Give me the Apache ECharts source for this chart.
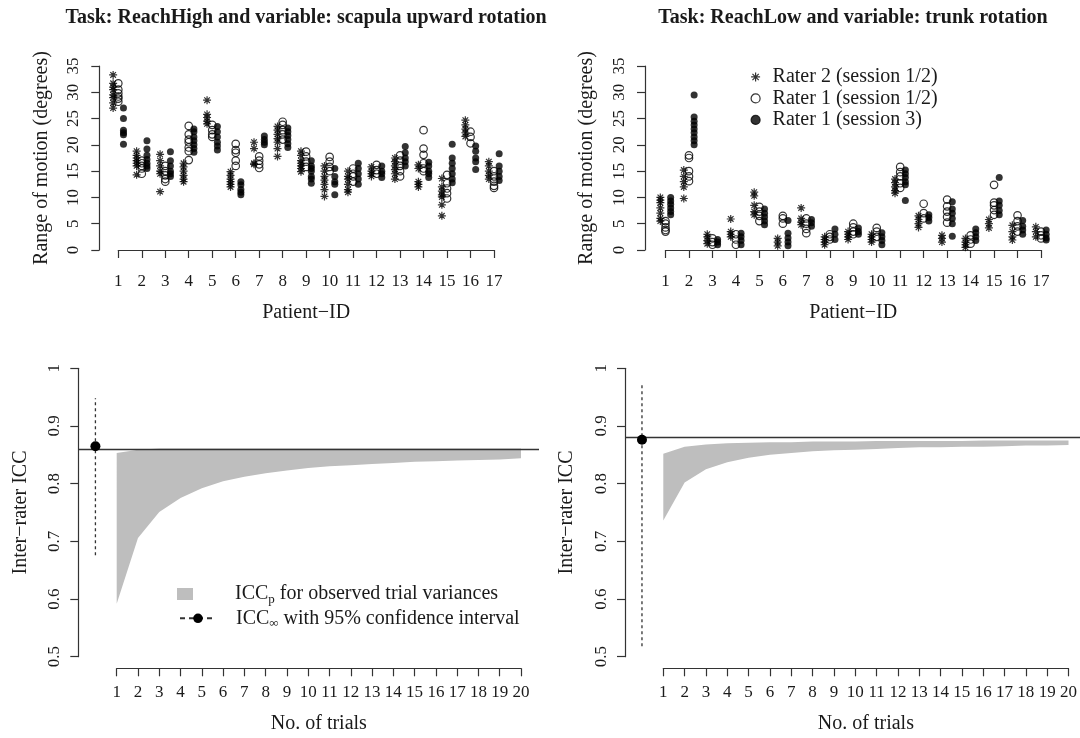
<!DOCTYPE html>
<html>
<head>
<meta charset="utf-8">
<title>Range of motion and inter-rater ICC</title>
<script src="https://cdn.jsdelivr.net/npm/echarts@6/dist/echarts.min.js"></script>
<style>
  html, body { margin: 0; padding: 0; background: #fff; }
  #chart { width: 1080px; height: 738px; }
</style>
</head>
<body>
<div id="chart"></div>
<script>
// ---- data ----
const patients = [1, 2, 3, 4, 5, 6, 7, 8, 9, 10, 11, 12, 13, 14, 15, 16, 17]
const trials = [1, 2, 3, 4, 5, 6, 7, 8, 9, 10, 11, 12, 13, 14, 15, 16, 17, 18, 19, 20]

// ReachHigh, scapula upward rotation (one list per patient)
const highRater2 = [
  [33.3, 31.7, 31.0, 30.5, 29.5, 29.0, 28.0, 27.0],
  [18.8, 18.0, 17.5, 17.0, 16.5, 16.0, 14.3],
  [18.2, 17.0, 16.0, 15.0, 14.5, 11.1],
  [16.5, 15.8, 15.0, 14.2, 13.5, 13.0],
  [28.5, 25.8, 25.2, 24.5, 24.0],
  [14.9, 14.2, 13.5, 13.0, 12.5, 12.0],
  [20.5, 19.3, 16.5, 16.3],
  [23.5, 22.8, 22.0, 21.2, 20.5, 19.3, 17.8],
  [18.8, 18.0, 17.0, 16.5, 16.0, 15.5, 14.9],
  [16.0, 15.0, 14.0, 13.3, 12.5, 11.5, 10.2],
  [15.0, 14.0, 13.5, 12.5, 11.5, 11.0],
  [15.8, 15.0, 14.5, 14.0],
  [17.5, 16.8, 16.0, 15.3, 14.5, 13.5],
  [16.2, 15.5, 13.0, 12.5, 12.0],
  [13.6, 12.0, 11.2, 10.5, 10.1, 8.6, 6.5],
  [24.7, 23.8, 23.0, 22.3, 21.6],
  [16.8, 16.0, 15.0, 14.2, 13.5]
]
const highRater1 = [
  [31.7, 30.5, 29.8, 29.2, 28.8, 28.2],
  [17.0, 16.5, 16.0, 15.5, 14.5],
  [16.0, 15.0, 14.2, 13.5, 13.0],
  [23.6, 22.0, 21.0, 20.5, 19.5, 18.8, 17.1],
  [23.8, 22.8, 22.0, 21.5],
  [20.2, 19.0, 18.5, 17.0, 16.0],
  [17.8, 17.0, 16.3, 15.6],
  [24.4, 23.8, 22.8, 22.0, 21.0],
  [18.7, 17.8, 16.8, 15.8],
  [17.7, 16.8, 15.8, 15.0],
  [15.5, 14.5, 14.0, 13.0],
  [16.2, 15.2, 14.5],
  [18.0, 17.0, 16.0, 15.0, 14.0],
  [22.8, 19.3, 18.1, 16.5, 15.5, 15.0],
  [14.3, 12.7, 11.7, 10.8, 9.8],
  [22.5, 21.5, 20.3],
  [15.0, 14.0, 13.0, 12.2, 11.8]
]
const highRater1s3 = [
  [27.0, 25.0, 22.8, 22.3, 21.9, 20.1],
  [20.8, 19.2, 18.0, 17.2, 16.5, 16.0, 15.5],
  [18.7, 17.0, 16.0, 15.0, 14.5, 14.0],
  [23.0, 22.5, 21.5, 20.8, 20.0, 19.3, 18.6],
  [23.5, 22.5, 21.5, 20.5, 19.8, 19.0],
  [13.0, 12.4, 11.5, 11.0, 10.5],
  [21.7, 21.0, 20.5, 20.0],
  [23.2, 22.5, 21.8, 21.0, 20.2, 19.5],
  [17.0, 16.0, 15.5, 15.0, 14.0, 13.5, 12.7],
  [15.5, 14.0, 13.0, 12.5, 10.5],
  [16.5, 15.5, 14.5, 13.5, 12.5],
  [16.0, 15.0, 14.5, 13.8],
  [19.7, 18.5, 17.5, 16.8, 16.0],
  [16.7, 16.0, 15.0, 14.5, 13.8],
  [20.1, 17.5, 16.5, 15.5, 14.5, 13.5, 12.8],
  [19.8, 18.8, 17.5, 16.8, 15.3],
  [18.3, 16.0, 15.0, 14.0, 13.2]
]

// ReachLow, trunk rotation
const lowRater2 = [
  [10.0, 9.5, 9.0, 8.0, 7.0, 6.0, 5.5],
  [15.2, 14.0, 13.0, 12.0, 9.8],
  [3.0, 2.5, 1.8, 1.2],
  [5.9, 3.5, 3.0, 2.5],
  [11.0, 10.3, 8.5, 7.3, 6.7],
  [2.2, 1.5, 0.8],
  [8.0, 6.0, 5.3, 4.8],
  [2.5, 2.0, 1.5, 1.0],
  [3.5, 3.0, 2.5, 2.0],
  [3.0, 2.5, 2.0, 1.5],
  [13.5, 12.8, 12.0, 11.3, 10.8],
  [6.5, 5.8, 5.0, 4.3],
  [2.8, 2.2, 1.5],
  [2.2, 1.5, 1.0, 0.5],
  [5.8, 5.0, 4.2],
  [4.7, 3.5, 2.5, 1.9],
  [4.4, 3.5, 2.5]
]
const lowRater1 = [
  [5.5, 5.0, 4.3, 3.8, 3.5],
  [18.0, 17.5, 15.0, 14.0, 13.1],
  [2.2, 1.5, 1.0],
  [3.0, 2.0, 1.0],
  [8.2, 7.3, 6.5, 5.5],
  [6.5, 6.0, 5.0],
  [6.0, 5.0, 4.0, 3.2],
  [3.0, 2.5, 2.0],
  [5.0, 4.3, 3.5, 3.0],
  [4.2, 3.5, 2.5],
  [15.8, 14.8, 14.0, 12.7, 11.8],
  [8.8, 7.0, 6.0],
  [9.6, 8.3, 7.3, 6.3, 5.2],
  [2.8, 2.0, 1.2],
  [12.4, 9.0, 8.5, 7.6, 6.7],
  [6.6, 5.5, 4.5, 3.5],
  [3.5, 2.8, 2.2]
]
const lowRater1s3 = [
  [10.0, 9.3, 8.7, 8.0, 7.3, 6.7],
  [29.5, 25.3, 24.5, 23.8, 23.0, 22.3, 21.5, 20.8, 20.0],
  [2.0, 1.5, 1.0],
  [3.2, 2.5, 1.8, 1.0],
  [7.8, 7.0, 6.3, 5.5, 4.8],
  [5.6, 3.2, 2.3, 1.5, 0.8],
  [5.8, 5.2, 4.5],
  [4.0, 3.0, 2.0],
  [4.2, 3.5, 3.0],
  [3.3, 2.5, 1.8, 1.0],
  [15.2, 14.5, 13.8, 13.0, 12.4, 9.4],
  [6.7, 6.2, 5.5],
  [9.2, 7.8, 7.0, 6.0, 5.0, 2.6],
  [4.0, 3.3, 2.5, 1.8],
  [13.8, 9.3, 8.5, 7.5, 6.7],
  [5.6, 4.5, 3.8, 3.0],
  [3.8, 3.0, 2.3, 1.9]
]

// ICC_p bands (lower / upper edge per number of trials) and ICC_inf with 95% CI
const highBandLower = [0.592, 0.706, 0.751, 0.775, 0.792, 0.804, 0.812, 0.818, 0.823, 0.827,
  0.830, 0.832, 0.834, 0.836, 0.838, 0.839, 0.840, 0.841, 0.842, 0.844]
const highBandUpper = [0.853, 0.859, 0.861, 0.861, 0.861, 0.861, 0.861, 0.861, 0.861, 0.861,
  0.861, 0.861, 0.861, 0.861, 0.861, 0.861, 0.861, 0.861, 0.861, 0.861]
const highIcc = 0.865
const highCi = [0.676, 0.948]

const lowBandLower = [0.736, 0.802, 0.825, 0.837, 0.845, 0.850, 0.853, 0.856, 0.858, 0.859,
  0.860, 0.862, 0.863, 0.863, 0.864, 0.864, 0.865, 0.866, 0.866, 0.867]
const lowBandUpper = [0.852, 0.864, 0.868, 0.870, 0.871, 0.872, 0.872, 0.873, 0.873, 0.873,
  0.874, 0.874, 0.874, 0.874, 0.874, 0.875, 0.875, 0.875, 0.875, 0.875]
const lowIcc = 0.876
const lowCi = [0.518, 0.972]

const raterNames = ['Rater 2 (session 1/2)', 'Rater 1 (session 1/2)', 'Rater 1 (session 3)']
const bandName = 'ICCp for observed trial variances'
const iccName = 'ICC∞ with 95% confidence interval'

// ---- styling helpers ----
const FONT = 'Liberation Serif'
const INK = '#1a1a1a'
const AXIS = '#333'
const STAR = 'path://M0 5L10 5M5 0L5 10M1.5 1.5L8.5 8.5M1.5 8.5L8.5 1.5'

function points(groups, shift) {
  const pts = []
  groups.forEach((vals, i) => {
    vals.forEach(v => pts.push([patients[i] + shift, v]))
  })
  return pts
}

function xAxis(gridIndex, min, max, name, offset, margin) {
  return {
    gridIndex: gridIndex,
    type: 'value',
    min: min,
    max: max,
    interval: 1,
    offset: offset,
    axisLine: { show: true, lineStyle: { color: AXIS, width: 1.2 } },
    axisTick: { show: true, length: 8, lineStyle: { color: AXIS, width: 1.2 } },
    axisLabel: { margin: margin, fontSize: 17, fontFamily: FONT, color: INK },
    splitLine: { show: false },
    name: name,
    nameLocation: 'middle',
    nameGap: 45,
    nameTextStyle: { fontSize: 20, fontFamily: FONT, color: INK }
  }
}

function yAxis(gridIndex, min, max, interval, name, offset, margin) {
  return {
    gridIndex: gridIndex,
    type: 'value',
    min: min,
    max: max,
    interval: interval,
    offset: offset,
    axisLine: { show: true, lineStyle: { color: AXIS, width: 1.2 } },
    axisTick: { show: true, length: 8, lineStyle: { color: AXIS, width: 1.2 } },
    axisLabel: { rotate: 90, margin: margin, fontSize: 17, fontFamily: FONT, color: INK },
    splitLine: { show: false },
    name: name,
    nameLocation: 'middle',
    nameRotate: 90,
    nameGap: 48,
    nameTextStyle: { fontSize: 20, fontFamily: FONT, color: INK }
  }
}

// hidden axes for the grids that only carry the ICC_inf reference line
function hiddenX(gridIndex) {
  return { gridIndex: gridIndex, type: 'value', min: 0, max: 1, show: false }
}
function hiddenY(gridIndex) {
  return { gridIndex: gridIndex, type: 'value', min: 0.5, max: 1, show: false }
}

function raterSeries(groupsList, axisIndex) {
  const shifts = [-0.22, 0, 0.22]
  const symbols = [STAR, 'circle', 'circle']
  const sizes = [8, 7.5, 7]
  const styles = [
    { color: 'transparent', borderColor: '#000', borderWidth: 1.2 },
    { color: 'transparent', borderColor: '#000', borderWidth: 1.2 },
    { color: '#000', borderColor: '#000', borderWidth: 0 }
  ]
  return groupsList.map((groups, k) => ({
    type: 'scatter',
    name: raterNames[k],
    xAxisIndex: axisIndex,
    yAxisIndex: axisIndex,
    data: points(groups, shifts[k]),
    symbol: symbols[k],
    symbolSize: sizes[k],
    itemStyle: styles[k],
    clip: false,
    silent: true
  }))
}

function bandSeries(lower, upper, axisIndex) {
  return {
    type: 'custom',
    name: bandName,
    xAxisIndex: axisIndex,
    yAxisIndex: axisIndex,
    data: trials.map((t, i) => [t, lower[i], upper[i]]),
    encode: { x: 0, y: [1, 2] },
    silent: true,
    renderItem: (params, api) => {
      if (params.dataIndex !== 0) return
      const pts = trials.map((t, i) => api.coord([t, upper[i]]))
      for (let i = trials.length - 1; i >= 0; i--) {
        pts.push(api.coord([trials[i], lower[i]]))
      }
      return {
        type: 'polygon',
        shape: { points: pts },
        style: { fill: '#bebebe', stroke: null }
      }
    }
  }
}

// the point itself (its legend icon is the dashed line with a dot)
function iccPoint(icc, axisIndex) {
  return {
    type: 'line',
    name: iccName,
    xAxisIndex: axisIndex,
    yAxisIndex: axisIndex,
    data: [[0, icc]],
    symbol: 'circle',
    symbolSize: 10,
    itemStyle: { color: '#000' },
    lineStyle: { color: AXIS, width: 1.3, type: [5, 4] },
    clip: false,
    silent: true,
    z: 6
  }
}

// dashed 95% confidence interval
function ciSeries(ci, axisIndex) {
  return {
    type: 'custom',
    name: iccName,
    xAxisIndex: axisIndex,
    yAxisIndex: axisIndex,
    data: [[0, ci[0], ci[1]]],
    encode: { x: 0, y: [1, 2] },
    silent: true,
    z: 5,
    renderItem: (params, api) => {
      const a = api.coord([api.value(0), api.value(1)])
      const b = api.coord([api.value(0), api.value(2)])
      return {
        type: 'line',
        shape: { x1: a[0], y1: a[1], x2: b[0], y2: b[1] },
        style: { stroke: AXIS, lineWidth: 1.3, lineDash: [3, 3] }
      }
    }
  }
}

function iccLine(icc, axisIndex) {
  return {
    type: 'line',
    xAxisIndex: axisIndex,
    yAxisIndex: axisIndex,
    data: [],
    silent: true,
    z: 4,
    markLine: {
      silent: true,
      symbol: ['none', 'none'],
      label: { show: false },
      lineStyle: { color: AXIS, width: 1.3, type: 'solid' },
      data: [{ yAxis: icc }]
    }
  }
}

const titleStyle = { fontSize: 20, fontWeight: 'bold', fontFamily: FONT, color: INK }
const legendText = { fontSize: 20, fontFamily: FONT, color: INK }
const subRich = {
  m: { fontSize: 20, lineHeight: 24, fontFamily: FONT, color: INK },
  s: { fontSize: 13, lineHeight: 13, padding: [11, 0, 0, 0], fontFamily: FONT, color: INK }
}
function subFormatter(name) {
  if (name === bandName) return '{m|ICC}{s|p}{m| for observed trial variances}'
  return '{m|ICC}{s|∞}{m| with 95% confidence interval}'
}

const chart = echarts.init(document.getElementById('chart'))
chart.setOption({
  animation: false,
  backgroundColor: '#fff',
  title: [
    { text: 'Task: ReachHigh and variable: scapula upward rotation', left: 306, top: 8,
      textAlign: 'center', padding: 0, textStyle: titleStyle },
    { text: 'Task: ReachLow and variable: trunk rotation', left: 853, top: 8,
      textAlign: 'center', padding: 0, textStyle: titleStyle }
  ],
  legend: [
    {
      data: raterNames,
      orient: 'vertical',
      left: 750.5,
      top: 66.2,
      padding: 0,
      itemGap: 0,
      itemWidth: 9,
      itemHeight: 9,
      itemStyle: { borderWidth: 1.2 },
      textStyle: Object.assign({ lineHeight: 21.5, padding: [0, 0, 0, 7.5] }, legendText),
      selectedMode: false
    },
    {
      data: [{ name: bandName, icon: 'rect', itemStyle: { color: '#bebebe', borderWidth: 0 } }],
      left: 177,
      top: 582,
      padding: 0,
      itemWidth: 16,
      itemHeight: 12,
      formatter: subFormatter,
      textStyle: { padding: [0, 0, 0, 37], rich: subRich },
      selectedMode: false
    },
    {
      data: [iccName],
      left: 179,
      top: 606.3,
      padding: 0,
      itemWidth: 36,
      itemHeight: 12,
      formatter: subFormatter,
      textStyle: { padding: [0, 0, 0, 15], rich: subRich },
      selectedMode: false
    }
  ],
  grid: [
    { left: 118.3, top: 66, width: 375.7, height: 184 },
    { left: 665.5, top: 66, width: 375.5, height: 184 },
    { left: 116.7, top: 368.3, width: 404.3, height: 288.4 },
    { left: 663.3, top: 368.3, width: 405.7, height: 288.4 },
    { left: 78.3, top: 368.3, width: 460.7, height: 288.4 },
    { left: 625, top: 368.3, right: 0, height: 288.4 }
  ],
  xAxis: [
    xAxis(0, 1, 17, 'Patient−ID', 7.7, 15),
    xAxis(1, 1, 17, 'Patient−ID', 7.7, 15),
    xAxis(2, 1, 20, 'No. of trials', 11.6, 16),
    xAxis(3, 1, 20, 'No. of trials', 11.6, 16),
    hiddenX(4),
    hiddenX(5)
  ],
  yAxis: [
    yAxis(0, 0, 35, 5, 'Range of motion (degrees)', 19, 17),
    yAxis(1, 0, 35, 5, 'Range of motion (degrees)', 20.5, 17),
    yAxis(2, 0.5, 1, 0.1, 'Inter−rater ICC', 38.4, 15),
    yAxis(3, 0.5, 1, 0.1, 'Inter−rater ICC', 38.3, 15),
    hiddenY(4),
    hiddenY(5)
  ],
  series: [
    ...raterSeries([highRater2, highRater1, highRater1s3], 0),
    ...raterSeries([lowRater2, lowRater1, lowRater1s3], 1),
    bandSeries(highBandLower, highBandUpper, 2),
    bandSeries(lowBandLower, lowBandUpper, 3),
    iccLine(highIcc, 4),
    iccLine(lowIcc, 5),
    iccPoint(highIcc, 2),
    iccPoint(lowIcc, 3),
    ciSeries(highCi, 2),
    ciSeries(lowCi, 3)
  ]
})
</script>
</body>
</html>
